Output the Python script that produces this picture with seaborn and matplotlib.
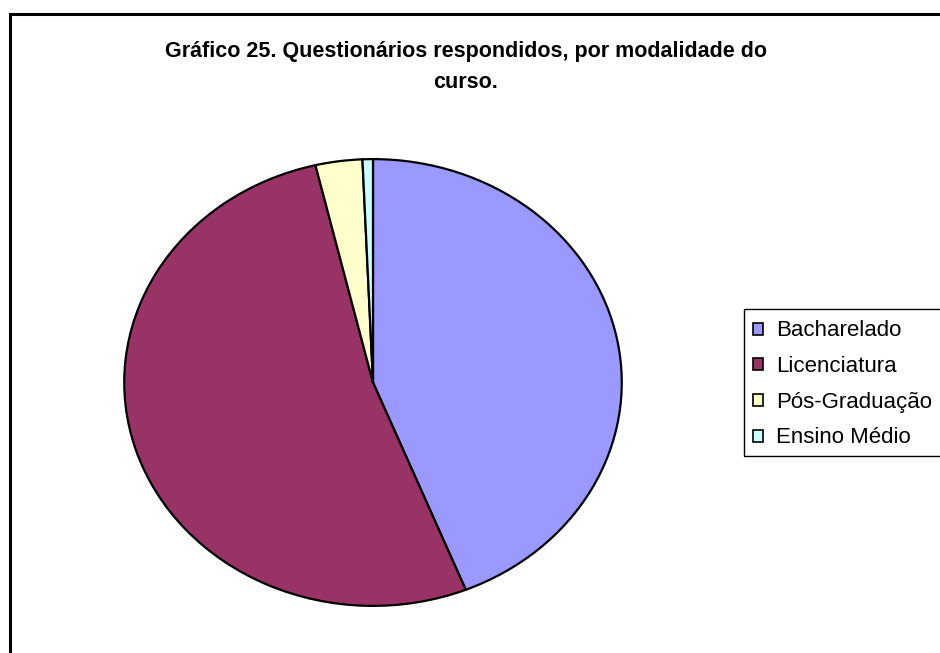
import matplotlib
matplotlib.use("Agg")
import matplotlib.pyplot as plt
from matplotlib.patches import Rectangle, Patch
import seaborn as sns

# Questionnaires answered, by course modality
categories = ["Bacharelado", "Licenciatura", "Pós-Graduação", "Ensino Médio"]
counts = [130, 155, 9, 2]
colors = ["#9999FF", "#993366", "#FFFFCC", "#CCFFFF"]
title = "Gráfico 25. Questionários respondidos, por modalidade do\ncurso."

sns.set_theme(style="white")
plt.rcParams["font.family"] = ["Liberation Sans", "DejaVu Sans"]
plt.rcParams["text.color"] = "black"

W, H = 940, 653
fig = plt.figure(figsize=(W / 100, H / 100), dpi=100)
fig.patch.set_facecolor("white")

# outer chart frame (runs off the right and bottom edges)
fig.patches.append(Rectangle((9.5 / W, -0.1), 1.2, (H - 14) / H + 0.1,
                             transform=fig.transFigure, fill=False,
                             edgecolor="black", linewidth=2.2, zorder=0))

# pie area: slightly wider than tall
px0, px1, py0, py1 = 123, 623, 158, 607
ax = fig.add_axes([px0 / W, (H - py1) / H, (px1 - px0) / W, (py1 - py0) / H])
ax.pie(counts, colors=colors, startangle=90, counterclock=False,
       wedgeprops=dict(edgecolor="black", linewidth=1.6))
ax.set_aspect("auto")
ax.set_xlim(-1.005, 1.005)
ax.set_ylim(-1.005, 1.005)
ax.axis("off")

fig.text(466 / W, 1 - 41 / H, title, ha="center", va="top", color="black",
         fontsize=15.5, fontweight="bold", linespacing=1.62)

# legend
handles = [Patch(facecolor=c, edgecolor="black", linewidth=1.2) for c in colors]
fig.legend(handles, categories, loc="upper left",
           bbox_to_anchor=(749 / W, 1 - 316 / H), frameon=False,
           fontsize=16, handlelength=0.45, handleheight=0.45,
           handletextpad=0.58, labelspacing=0.66, borderpad=0.2,
           borderaxespad=0)
fig.patches.append(Rectangle((744 / W, 1 - 456 / H), 0.3, (456 - 309) / H,
                             transform=fig.transFigure, fill=False,
                             edgecolor="black", linewidth=1.0))

fig.savefig("out.png", dpi=100, facecolor="white")
